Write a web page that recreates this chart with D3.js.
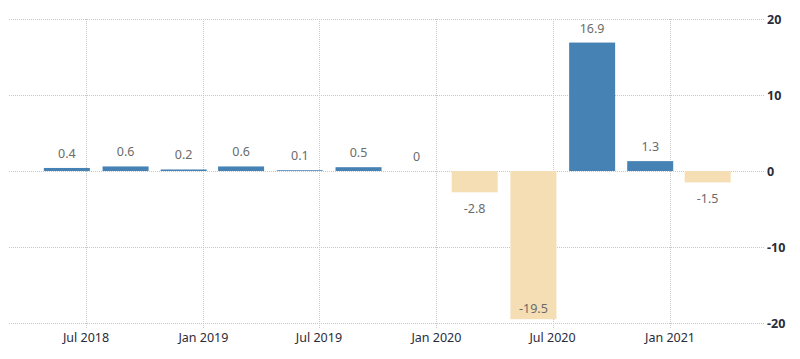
<!DOCTYPE html>
<html><head><meta charset="utf-8">
<script src="https://cdn.jsdelivr.net/npm/d3@7"></script>
<style>body{margin:0;background:#fff}svg{display:block}</style>
</head><body><svg id="c" width="800" height="359"></svg>
<script>
const quarters = ["2018-06-01","2018-09-01","2018-12-01","2019-03-01","2019-06-01","2019-09-01","2019-12-01","2020-03-01","2020-06-01","2020-09-01","2020-12-01","2021-03-01"];
const values = [0.4, 0.6, 0.2, 0.6, 0.1, 0.5, 0, -2.8, -19.5, 16.9, 1.3, -1.5];
const xTicks = ["2018-07-01","2019-01-01","2019-07-01","2020-01-01","2020-07-01","2021-01-01"];
const yTicks = [20, 10, 0, -10, -20];

const parse = d3.utcParse("%Y-%m-%d");
const svg = d3.select("#c");
const mLeft = 9, mRight = 765, mTop = 19, mBottom = 323;
const x = d3.scaleUtc().domain([parse("2018-07-01"), parse("2021-01-01")]).range([86, 670]);
const y = d3.scaleLinear().domain([-20, 20]).range([mBottom, mTop]);
const barW = 46;

// horizontal grid
svg.append("g").selectAll("line").data(yTicks).join("line")
  .attr("x1", mLeft).attr("x2", mRight)
  .attr("y1", d => Math.round(y(d)) + 0.5).attr("y2", d => Math.round(y(d)) + 0.5)
  .attr("stroke", "#c8c8c8").attr("stroke-dasharray", "1,1");
// vertical grid
svg.append("g").selectAll("line").data(xTicks).join("line")
  .attr("x1", d => Math.round(x(parse(d))) + 0.5).attr("x2", d => Math.round(x(parse(d))) + 0.5)
  .attr("y1", mTop).attr("y2", mBottom + 5)
  .attr("stroke", "#c8c8c8").attr("stroke-dasharray", "1,1");

// bars
svg.append("g").selectAll("rect").data(values).join("rect")
  .attr("x", (d, i) => x(parse(quarters[i])) - barW / 2)
  .attr("width", barW)
  .attr("y", d => y(Math.max(0, d)))
  .attr("height", d => Math.abs(y(d) - y(0)))
  .attr("fill", d => d >= 0 ? "#4682b4" : "#f5deb3");

// value labels
svg.append("g").selectAll("text").data(values).join("text")
  .attr("x", (d, i) => x(parse(quarters[i])))
  .attr("y", d => {
    if (d >= 0) return y(d) - 10;
    if (y(d) + 22 > mBottom) return y(d) - 6;
    return y(d) + 21;
  })
  .attr("text-anchor", "middle")
  .attr("font-family", "Noto Sans, sans-serif").attr("font-size", 12.5)
  .attr("fill", "#6b6b6b")
  .text(d => String(d));

// x labels
svg.append("g").selectAll("text").data(xTicks).join("text")
  .attr("x", d => x(parse(d)))
  .attr("y", 342)
  .attr("text-anchor", "middle")
  .attr("font-family", "Noto Sans, sans-serif").attr("font-size", 12.5)
  .attr("fill", "#2b2b3a")
  .text(d => d3.utcFormat("%b %Y")(parse(d)));

// y labels
svg.append("g").selectAll("text").data(yTicks).join("text")
  .attr("x", 767)
  .attr("y", d => y(d) + 5)
  .attr("font-family", "Noto Sans, sans-serif").attr("font-size", 12.5).attr("font-weight", "bold")
  .attr("fill", "#2b2b3a")
  .text(d => String(d));
</script></body></html>
